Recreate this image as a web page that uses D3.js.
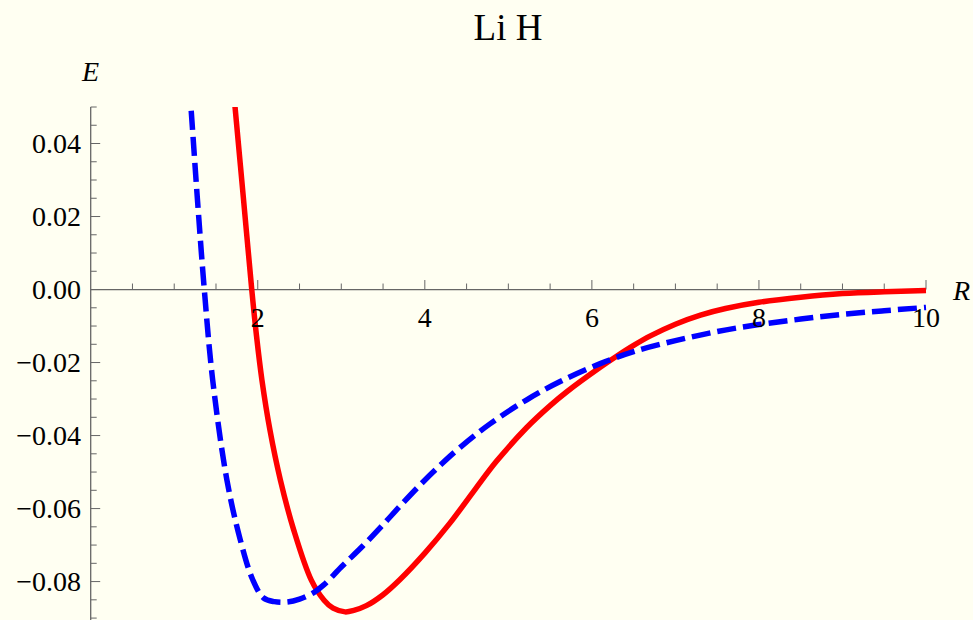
<!DOCTYPE html>
<html>
<head>
<meta charset="utf-8">
<script src="https://cdn.jsdelivr.net/npm/d3@7"></script>
<style>
  html, body { margin: 0; padding: 0; background: #fffff2; }
  svg { display: block; }
  text { font-family: "Liberation Serif", "Times New Roman", Times, serif; fill: #000; }
</style>
</head>
<body>
<svg id="chart" width="973" height="620"></svg>
<script>
// LiH potential energy curves, E(R)
const title = "Li H";
const xLabel = "R";
const yLabel = "E";

// solid red curve
const redR = [1.700, 1.728, 1.828, 1.928, 1.984, 2.050, 2.146, 2.271, 2.431, 2.641, 2.794, 2.902, 3.046, 3.15, 3.30, 3.50, 3.70, 4.00, 4.30, 4.60, 4.86, 5.22, 5.50, 5.70, 6.10, 6.30, 6.50, 6.70, 7.00, 7.30, 7.60, 8.00, 8.50, 9.00, 9.50, 10.0];
const redE = [0.0575, 0.0500, 0.0251, 0.0000, -0.0125, -0.0248, -0.0385, -0.0522, -0.0659, -0.0796, -0.0851, -0.0873, -0.0883, -0.0879, -0.0866, -0.0836, -0.0795, -0.0722, -0.0640, -0.0548, -0.0470, -0.0378, -0.0318, -0.0280, -0.0213, -0.0182, -0.0153, -0.0127, -0.0095, -0.0070, -0.0052, -0.0035, -0.0021, -0.0011, -0.0006, -0.0003];

// dashed blue curve
const blueR = [1.18, 1.20, 1.28, 1.36, 1.46, 1.63, 1.79, 1.94, 2.07, 2.20, 2.35, 2.50, 2.67, 2.79, 3.00, 3.26, 3.50, 3.70, 3.94, 4.20, 4.42, 4.78, 5.22, 5.62, 6.10, 6.50, 7.00, 7.50, 8.00, 8.50, 9.00, 9.50, 10.0];
const blueE = [0.0560, 0.0500, 0.0240, 0.0000, -0.0247, -0.0521, -0.0685, -0.0795, -0.0845, -0.0855, -0.0856, -0.0848, -0.0830, -0.0809, -0.0760, -0.0702, -0.0644, -0.0594, -0.0536, -0.0478, -0.0433, -0.0368, -0.0302, -0.0252, -0.0203, -0.0170, -0.0140, -0.0115, -0.0096, -0.0081, -0.0068, -0.0058, -0.0049];

const xMajor = [2, 4, 6, 8, 10];
const yMajor = [-0.08, -0.06, -0.04, -0.02, 0.00, 0.02, 0.04];

const svg = d3.select("#chart");
const x = d3.scaleLinear().domain([0, 10]).range([90.7, 926]);
const y = d3.scaleLinear().domain([-0.0908, 0.05]).range([621, 107]);

svg.append("rect").attr("width", 973).attr("height", 620).attr("fill", "#fffff2");

// clip region for the curves
svg.append("defs").append("clipPath").attr("id", "plotClip")
  .append("rect").attr("x", x(0)).attr("y", y(0.05))
  .attr("width", x(10) - x(0) + 4).attr("height", y(-0.0908) - y(0.05));

const axisColor = "#666";

// x axis (at E = 0) with upward ticks
const xAxis = svg.append("g");
xAxis.append("line").attr("x1", x(0)).attr("x2", x(10)).attr("y1", y(0)).attr("y2", y(0))
  .attr("stroke", axisColor).attr("stroke-width", 1.3);
const xMinor = d3.range(0.5, 10.01, 0.5).filter(v => Math.abs(v % 2) > 1e-6);
xAxis.selectAll(".xminor").data(xMinor).join("line")
  .attr("x1", d => x(d)).attr("x2", d => x(d))
  .attr("y1", y(0)).attr("y2", y(0) - 6)
  .attr("stroke", axisColor).attr("stroke-width", 1);
xAxis.selectAll(".xmajor").data(xMajor).join("line")
  .attr("x1", d => x(d)).attr("x2", d => x(d))
  .attr("y1", y(0)).attr("y2", y(0) - 9.5)
  .attr("stroke", axisColor).attr("stroke-width", 1);

// y axis (at R = 0) with rightward ticks
const yAxis = svg.append("g");
yAxis.append("line").attr("x1", x(0)).attr("x2", x(0)).attr("y1", y(0.05)).attr("y2", 620)
  .attr("stroke", axisColor).attr("stroke-width", 1.3);
const yMinor = d3.range(-18, 11).map(i => i * 0.005).filter(v => Math.abs(Math.round(v * 1000) % 20) !== 0);
yAxis.selectAll(".yminor").data(yMinor).join("line")
  .attr("x1", x(0)).attr("x2", x(0) + 6)
  .attr("y1", d => y(d)).attr("y2", d => y(d))
  .attr("stroke", axisColor).attr("stroke-width", 1);
yAxis.selectAll(".ymajor").data(yMajor).join("line")
  .attr("x1", x(0)).attr("x2", x(0) + 9.5)
  .attr("y1", d => y(d)).attr("y2", d => y(d))
  .attr("stroke", axisColor).attr("stroke-width", 1);

// curves
const line = d3.line().x(d => x(d[0])).y(d => y(d[1])).curve(d3.curveCatmullRom.alpha(0.5));
const curves = svg.append("g").attr("clip-path", "url(#plotClip)");
curves.append("path").datum(redR.map((r, i) => [r, redE[i]]))
  .attr("d", line).attr("fill", "none").attr("stroke", "#ff0000").attr("stroke-width", 5.5);
curves.append("path").datum(blueR.map((r, i) => [r, blueE[i]]))
  .attr("d", line).attr("fill", "none").attr("stroke", "#0000ff").attr("stroke-width", 5.5)
  .attr("stroke-dasharray", "19,7");

// tick labels
const fmt = v => (v < 0 ? "\u2212" : "") + Math.abs(v).toFixed(2);
svg.selectAll(".ylab").data(yMajor).join("text")
  .attr("x", 81).attr("y", d => y(d)).attr("dy", "0.35em")
  .attr("text-anchor", "end").attr("font-size", 28).text(fmt);
svg.selectAll(".xlab").data(xMajor).join("text")
  .attr("x", d => x(d)).attr("y", 327)
  .attr("text-anchor", "middle").attr("font-size", 28).text(d => d);

// axis names and title
svg.append("text").attr("x", 82).attr("y", 81).attr("font-size", 28)
  .attr("font-style", "italic").text(yLabel);
svg.append("text").attr("x", 953).attr("y", 300).attr("font-size", 28)
  .attr("font-style", "italic").text(xLabel);
svg.append("text").attr("x", 508).attr("y", 40).attr("font-size", 37)
  .attr("text-anchor", "middle").text(title);
</script>
</body>
</html>
